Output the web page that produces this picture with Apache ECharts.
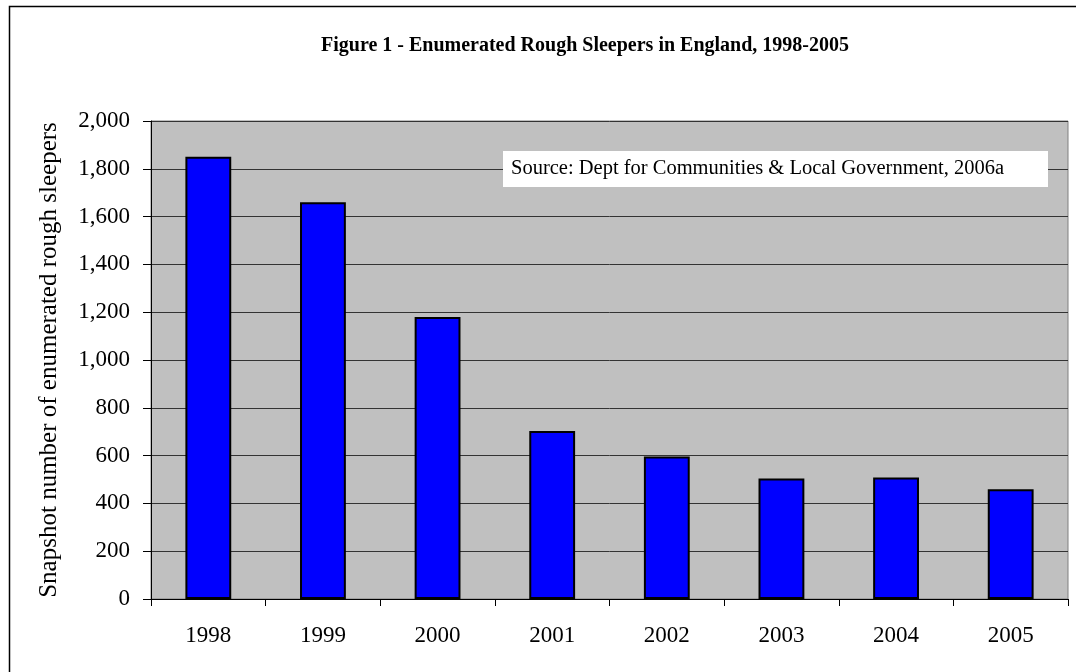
<!DOCTYPE html>
<html>
<head>
    <meta charset="utf-8">
    <title>Rough Sleepers</title>
    <script src="https://cdn.jsdelivr.net/npm/echarts@6/dist/echarts.min.js"></script>
    <style>
      html, body { margin: 0; padding: 0; background: #fff; }
    </style>
</head>
<body>
    <div id="chart" style="width: 1076px;height:672px;"></div>
    <script type="text/javascript">
    // data
    var years = ['1998', '1999', '2000', '2001', '2002', '2003', '2004', '2005'];
    var sleepers = [1850, 1660, 1180, 703, 596, 504, 508, 459];
    var yTicks = [0, 200, 400, 600, 800, 1000, 1200, 1400, 1600, 1800, 2000];

    var serif = '"Liberation Serif", "Times New Roman", serif';

    function fmt(v) {
      return String(v).replace(/\B(?=(\d{3})+(?!\d))/g, ',');
    }

    var chart = echarts.init(document.getElementById('chart'));

    var option = {
        animation: false,
        backgroundColor: '#fff',
        title: {
            text: 'Figure 1 - Enumerated Rough Sleepers in England, 1998-2005',
            left: 580,
            top: 31,
            textAlign: 'center',
            textStyle: { fontFamily: serif, fontSize: 20, fontWeight: 'bold', color: '#000' }
        },
        grid: {
            left: 151, right: 8, top: 121, bottom: 73,
            show: true,
            backgroundColor: '#c0c0c0',
            borderColor: '#808080',
            borderWidth: 1
        },
        xAxis: {
            type: 'category',
            data: years,
            axisLine: { lineStyle: { color: '#000', width: 1 } },
            axisTick: { show: true, length: 7, lineStyle: { color: '#000' } },
            axisLabel: { margin: 25, fontFamily: serif, fontSize: 23, color: '#000' }
        },
        yAxis: {
            type: 'value',
            min: yTicks[0],
            max: yTicks[yTicks.length - 1],
            interval: 200,
            name: 'Snapshot number of enumerated rough sleepers',
            nameLocation: 'middle',
            nameGap: 89,
            nameTextStyle: { fontFamily: serif, fontSize: 25, color: '#000' },
            axisLine: { show: true, lineStyle: { color: '#000', width: 1 } },
            axisTick: { show: true, length: 8, lineStyle: { color: '#000' } },
            splitLine: { lineStyle: { color: '#333', width: 1 } },
            axisLabel: {
                margin: 21, fontFamily: serif, fontSize: 23, color: '#000',
                formatter: function (v) { return fmt(v); }
            }
        },
        series: [{
            name: 'Rough sleepers',
            type: 'bar',
            data: sleepers,
            barWidth: '40%',
            itemStyle: { color: '#0000ff', borderColor: '#000', borderWidth: 2 }
        }],
        graphic: [
            {
                type: 'rect',
                shape: { x: 9.5, y: 6.5, width: 1100, height: 700 },
                style: { fill: 'none', stroke: '#000', lineWidth: 1.5 },
                silent: true,
                z: -1
            },
            {
                type: 'rect',
                shape: { x: 503, y: 151, width: 545, height: 36 },
                style: { fill: '#fff' },
                z: 100
            },
            {
                type: 'text',
                x: 511,
                y: 169,
                z: 101,
                style: {
                    text: 'Source: Dept for Communities & Local Government, 2006a',
                    font: '20.5px ' + serif,
                    fill: '#000',
                    verticalAlign: 'middle'
                }
            }
        ]
    };

    chart.setOption(option);
    </script>
</body>
</html>
